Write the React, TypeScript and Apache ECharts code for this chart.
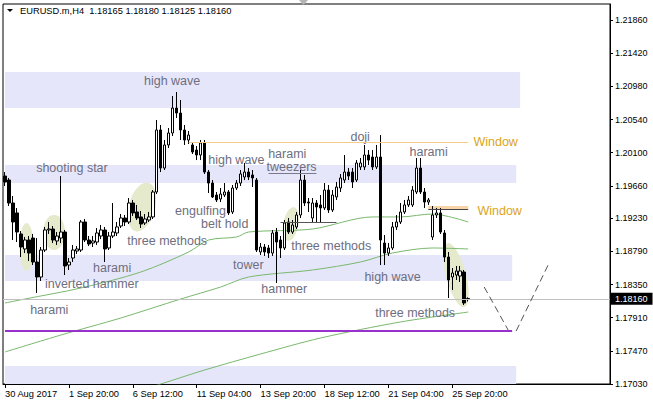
import React, { useEffect, useRef } from "react";
import * as echarts from "echarts";

const FONT = "'Liberation Sans', Arial, sans-serif";

// ---- candles (EURUSD.m, H4) ----
const opens = [
  1.19790, 1.19737, 1.19432, 1.19300, 1.19021, 1.18822, 1.18941, 1.18967, 1.18649, 1.18450,
  1.18808, 1.19074, 1.19087, 1.18928, 1.18967, 1.19047, 1.18609, 1.18702, 1.18795, 1.18808,
  1.19180, 1.18941, 1.18901, 1.18914, 1.18994, 1.19074, 1.18835, 1.18994, 1.19034, 1.19127,
  1.19233, 1.19180, 1.19432, 1.19313, 1.19247, 1.19167, 1.19206, 1.19247, 1.19578, 1.20401,
  1.19896, 1.20202, 1.20361, 1.20692, 1.20626, 1.20401, 1.20268, 1.20202, 1.20135, 1.20069,
  1.20228, 1.19843, 1.19697, 1.19538, 1.19485, 1.19538, 1.19578, 1.19313, 1.19631, 1.19697,
  1.19777, 1.19843, 1.19804, 1.19737, 1.18782, 1.18848, 1.18835, 1.18768, 1.19047, 1.18941,
  1.18835, 1.19180, 1.19047, 1.19114, 1.19273, 1.19737, 1.19445, 1.19233, 1.19432, 1.19406,
  1.19366, 1.19604, 1.19339, 1.19512, 1.19631, 1.19737, 1.19843, 1.19843, 1.19737, 1.19910,
  1.19910, 1.20069, 1.20042, 1.19910, 1.20042, 1.18901, 1.18768, 1.18835, 1.19114, 1.19180,
  1.19313, 1.19406, 1.19406, 1.19578, 1.19896, 1.19578, 1.19445, 1.18981, 1.19273, 1.19300,
  1.19034, 1.18715, 1.18450, 1.18476, 1.18463, 1.18516, 1.18165,
];
const closes = [
  1.19711, 1.19432, 1.19180, 1.19047, 1.18848, 1.18941, 1.18768, 1.18649, 1.18450, 1.18808,
  1.19074, 1.19087, 1.18941, 1.18994, 1.19047, 1.18596, 1.18649, 1.18808, 1.18822, 1.19180,
  1.18941, 1.18888, 1.18928, 1.19034, 1.19074, 1.18822, 1.18994, 1.19047, 1.19114, 1.19233,
  1.19180, 1.19432, 1.19300, 1.19233, 1.19153, 1.19220, 1.19247, 1.19578, 1.20401, 1.19896,
  1.20202, 1.20361, 1.20692, 1.20626, 1.20401, 1.20268, 1.20334, 1.20109, 1.20069, 1.20228,
  1.19843, 1.19697, 1.19512, 1.19472, 1.19551, 1.19578, 1.19300, 1.19631, 1.19697, 1.19817,
  1.19843, 1.19777, 1.19764, 1.18808, 1.18848, 1.18782, 1.18768, 1.19034, 1.18914, 1.18835,
  1.19167, 1.19047, 1.19140, 1.19273, 1.19737, 1.19432, 1.19432, 1.19432, 1.19379, 1.19366,
  1.19604, 1.19339, 1.19538, 1.19644, 1.19764, 1.19843, 1.19790, 1.19711, 1.19963, 1.19963,
  1.20069, 1.20002, 1.19910, 1.20042, 1.18941, 1.18768, 1.18835, 1.19114, 1.19180, 1.19313,
  1.19406, 1.19472, 1.19604, 1.19896, 1.19578, 1.19445, 1.19472, 1.19273, 1.19300, 1.19047,
  1.18715, 1.18410, 1.18503, 1.18530, 1.18530, 1.18105, 1.18160,
];
const lows = [
  1.19657, 1.19392, 1.18941, 1.18914, 1.18715, 1.18768, 1.18662, 1.18609, 1.18238, 1.18397,
  1.18782, 1.19021, 1.18901, 1.18875, 1.18901, 1.18476, 1.18543, 1.18649, 1.18755, 1.18782,
  1.18914, 1.18861, 1.18848, 1.18875, 1.18954, 1.18649, 1.18808, 1.18967, 1.18994, 1.19100,
  1.19127, 1.19153, 1.19260, 1.19206, 1.19100, 1.19140, 1.19180, 1.19220, 1.19551, 1.19843,
  1.19870, 1.20162, 1.20321, 1.20560, 1.20268, 1.20202, 1.20215, 1.20082, 1.20002, 1.20002,
  1.19817, 1.19565, 1.19498, 1.19445, 1.19445, 1.19512, 1.19273, 1.19286, 1.19604, 1.19657,
  1.19737, 1.19737, 1.19644, 1.18782, 1.18742, 1.18729, 1.18702, 1.18729, 1.18370, 1.18702,
  1.18808, 1.19021, 1.19021, 1.19087, 1.19233, 1.19392, 1.19313, 1.19180, 1.19180, 1.19180,
  1.19339, 1.19300, 1.19313, 1.19472, 1.19578, 1.19697, 1.19737, 1.19631, 1.19711, 1.19870,
  1.19870, 1.19936, 1.19870, 1.19883, 1.18609, 1.18609, 1.18729, 1.18808, 1.19074, 1.19153,
  1.19286, 1.19379, 1.19379, 1.19551, 1.19551, 1.19366, 1.19406, 1.18941, 1.19233, 1.19021,
  1.18649, 1.18171, 1.18277, 1.18410, 1.18384, 1.18078, 1.18125,
];
const highs = [
  1.19843, 1.19764, 1.19525, 1.19366, 1.19060, 1.18981, 1.18994, 1.19021, 1.18967, 1.18848,
  1.19114, 1.19180, 1.19127, 1.19047, 1.19790, 1.19074, 1.18702, 1.18875, 1.18861, 1.19206,
  1.19220, 1.18994, 1.18994, 1.19100, 1.19140, 1.19114, 1.19047, 1.19432, 1.19180, 1.19286,
  1.19273, 1.19498, 1.19472, 1.19406, 1.19326, 1.19286, 1.19313, 1.19604, 1.20533, 1.20467,
  1.20268, 1.20427, 1.20852, 1.20905, 1.20799, 1.20467, 1.20387, 1.20241, 1.20188, 1.20268,
  1.20268, 1.19870, 1.19737, 1.19578, 1.19631, 1.19697, 1.19604, 1.19671, 1.19737, 1.19870,
  1.19963, 1.19896, 1.19870, 1.19764, 1.18901, 1.18888, 1.18875, 1.19074, 1.19100, 1.18994,
  1.19206, 1.19233, 1.19206, 1.19313, 1.19870, 1.19804, 1.19498, 1.19498, 1.19472, 1.19538,
  1.19697, 1.19671, 1.19604, 1.19711, 1.19817, 1.20069, 1.19896, 1.19896, 1.20002, 1.20029,
  1.20202, 1.20135, 1.20135, 1.20202, 1.20334, 1.19007, 1.18901, 1.19180, 1.19273, 1.19432,
  1.19472, 1.19525, 1.19657, 1.20029, 1.20029, 1.19631, 1.19498, 1.19392, 1.19366, 1.19366,
  1.19074, 1.18782, 1.18569, 1.18596, 1.18596, 1.18543, 1.18180,
];

// ---- axes ----
const slotCount = 152; // chart shift leaves empty slots on the right
const slots = Array.from({ length: slotCount }, (_, i) => String(i));
const dateTickIdx = [0, 16, 32, 48, 64, 80, 96, 112];
const dateTickLabels = [
  "30 Aug 2017", "1 Sep 20:00", "6 Sep 12:00", "11 Sep 04:00",
  "13 Sep 20:00", "18 Sep 12:00", "21 Sep 04:00", "25 Sep 20:00",
];
const priceTicks = [
  1.1703, 1.1747, 1.1791, 1.1835, 1.1879, 1.1923, 1.1966, 1.201, 1.2054, 1.2098, 1.2142, 1.2186,
];
const priceMin = 1.1703;
const priceMax = 1.22073;
const headerText = "EURUSD.m,H4  1.18165 1.18180 1.18125 1.18160";
const lastClose = 1.1816;

// ---- moving averages ([slot, price]) ----
const maFast = [
  [0, 1.18105], [5, 1.18158], [19, 1.18304], [34, 1.18516], [46, 1.18782], [51, 1.18941],
  [58, 1.18981], [61, 1.19047], [77, 1.19087], [92, 1.19247], [99, 1.19247], [107, 1.19286],
  [116, 1.1918],
];
const maMid = [
  [0, 1.17455], [14, 1.1768], [29, 1.17906], [44, 1.18158], [54, 1.18317], [61, 1.1845],
  [77, 1.18543], [89, 1.18649], [97, 1.18768], [107, 1.18835], [116, 1.18822],
];
const maSlow = [
  [29, 1.16871], [39, 1.1703], [50, 1.17216], [64, 1.17428], [79, 1.1764], [99, 1.17853],
  [116, 1.17985],
];

// ---- zones: [fromSlot, toSlot, upperPrice, lowerPrice] ----
const zones = [
  [0, 129, 1.2117, 1.20692],
  [0, 128, 1.19936, 1.19697],
  [0, 127, 1.18742, 1.18397],
  [0, 128, 1.17269, 1.1703],
];
const lowerWindow = [106, 116, 1.19392, 1.19353];
const upperWindow = [46, 116, 1.20232];
const supportLine = [69, 83, 1.1918];
const tweezerLine = [66, 78, 1.1983];
const purpleLevel = [0, 127, 1.17737];
const projection = [
  [[120, 1.18317], [126, 1.17746]],
  [[128, 1.17733], [136, 1.18609]],
];

// ---- pattern highlights: [centerSlot, centerPrice, halfWidthSlots, halfHeightPrice, tiltDeg] ----
const ellipses = [
  [5.4, 1.18848, 1.75, 0.00318, 0],
  [12.3, 1.1904, 2.75, 0.00232, 0],
  [34.3, 1.19379, 3.3, 0.00332, -15],
  [71.6, 1.19153, 1.9, 0.00226, -10],
  [112.9, 1.18476, 2.5, 0.00438, 15],
];

// ---- annotations ----
const annoTexts = [
  "high wave", "shooting star", "harami", "inverted hammer", "three methods", "engulfing",
  "belt hold", "high wave", "harami", "tweezers", "tower", "hammer", "three methods", "doji",
  "high wave", "harami", "three methods", "Window", "Window", "harami",
];
const annoSlot = [
  34.8, 7.8, 22.05, 10.0, 30.6, 42.6, 49.1, 50.9, 65.9, 65.5, 57.1, 64.2, 71.7, 86.5, 90.0,
  101.3, 92.7, 117.3, 118.3, 6.3,
];
const annoPrice = [
  1.21051, 1.19896, 1.18569, 1.18357, 1.18928, 1.1932, 1.1916, 1.20002, 1.20085, 1.19916,
  1.18609, 1.18291, 1.18861, 1.20308, 1.1845, 1.20109, 1.17972, 1.20241, 1.19326, 1.18012,
];

function px(api: any, slot: number, price: number) {
  const r = Math.round(slot);
  const base = api.coord([r, price]);
  const bw = api.size([1, 0])[0];
  return [base[0] + (slot - r) * bw, base[1], bw];
}

function seg(a: number, b: number, p: number, style: any) {
  return [{ coord: [a, p], lineStyle: style }, { coord: [b, p] }];
}

export default function App() {
  const ref = useRef<HTMLDivElement>(null);

  useEffect(() => {
    if (!ref.current) return;
    const chart = echarts.init(ref.current, null, { renderer: "svg" });

    const candleData = opens.map((o, i) => [o, closes[i], lows[i], highs[i]]);

    const option: any = {
      animation: false,
      backgroundColor: "#fff",
      grid: {
        left: 3, right: 43, top: 4, bottom: 22,
        show: true, borderColor: "#000", borderWidth: 1, backgroundColor: "#fff",
      },
      xAxis: {
        type: "category",
        data: slots,
        boundaryGap: true,
        axisLine: { show: true, lineStyle: { color: "#000" } },
        axisTick: {
          show: true, alignWithLabel: true, length: 4,
          interval: (i: number) => dateTickIdx.includes(i),
          lineStyle: { color: "#000" },
        },
        axisLabel: {
          interval: (i: number) => dateTickIdx.includes(i),
          formatter: (v: string) => {
            const k = dateTickIdx.indexOf(Number(v));
            return k >= 0 ? dateTickLabels[k] : "";
          },
          align: "left", margin: 5, fontSize: 9.3, color: "#000", fontFamily: FONT,
        },
        splitLine: { show: false },
      },
      yAxis: {
        type: "value",
        position: "right",
        min: priceMin,
        max: priceMax,
        axisLine: { show: true, lineStyle: { color: "#000" } },
        axisTick: { show: true, inside: false, length: 3, customValues: priceTicks, lineStyle: { color: "#000" } },
        axisLabel: {
          customValues: priceTicks,
          formatter: (v: number) => v.toFixed(5),
          margin: 5, fontSize: 9, color: "#000", fontFamily: FONT,
        },
        splitLine: { show: false },
      },
      graphic: [
        { type: "polygon", shape: { points: [[7, 9], [13, 9], [10, 12]] }, style: { fill: "#000" } },
        {
          type: "text", x: 20, y: 10.5,
          style: { text: headerText, fill: "#000", fontSize: 9.3, fontFamily: FONT, verticalAlign: "middle" },
        },
        { type: "polygon", shape: { points: [[299, 0], [308, 0], [303.5, 5]] }, style: { fill: "#b4b4b4" } },
      ],
      series: [
        {
          type: "custom",
          z: 1.5,
          silent: true,
          data: ellipses.map((e) => [Math.round(e[0]), e[1]]),
          encode: { x: 0, y: 1 },
          renderItem: (params: any, api: any) => {
            const e = ellipses[params.dataIndex];
            const [x, y, bw] = px(api, e[0], e[1]);
            const ry = api.size([0, e[3]], [Math.round(e[0]), e[1]])[1];
            return {
              type: "ellipse",
              x, y,
              rotation: (e[4] * Math.PI) / 180,
              shape: { cx: 0, cy: 0, rx: e[2] * bw, ry },
              style: { fill: "#e4eacb" },
            };
          },
        },
        {
          type: "line", z: 1.8, silent: true, data: maFast, smooth: 0.3, symbol: "none",
          lineStyle: { color: "#79b86c", width: 1 },
        },
        {
          type: "line", z: 1.8, silent: true, data: maMid, smooth: 0.3, symbol: "none",
          lineStyle: { color: "#79b86c", width: 1 },
        },
        {
          type: "line", z: 1.8, silent: true, data: maSlow, smooth: 0.3, symbol: "none",
          lineStyle: { color: "#79b86c", width: 1 },
        },
        {
          type: "candlestick",
          z: 3,
          barWidth: 3,
          data: candleData,
          itemStyle: {
            color: "#fff", color0: "#000",
            borderColor: "#000", borderColor0: "#000", borderWidth: 1,
          },
          markArea: {
            silent: true,
            data: [
              ...zones.map((z) => [
                { xAxis: z[0], yAxis: z[2], itemStyle: { color: "#e6e6fa" } },
                { xAxis: z[1], yAxis: z[3] },
              ]),
              [
                { xAxis: lowerWindow[0], yAxis: lowerWindow[2], itemStyle: { color: "#f8d4a8" } },
                { xAxis: lowerWindow[1], yAxis: lowerWindow[3] },
              ],
            ],
          },
          markLine: {
            silent: true,
            precision: 5,
            symbol: ["none", "none"],
            label: { show: false },
            data: [
              {
                yAxis: lastClose,
                lineStyle: { color: "#c0c0c0", width: 1, type: "solid" },
                label: {
                  show: true, position: "end", distance: 1,
                  formatter: lastClose.toFixed(5),
                  backgroundColor: "#000", color: "#fff",
                  padding: [2, 5, 1, 4], fontSize: 9, fontFamily: FONT,
                },
              },
              seg(purpleLevel[0], purpleLevel[1], purpleLevel[2], { color: "#9932cc", width: 2, type: "solid" }),
              seg(upperWindow[0], upperWindow[1], upperWindow[2], { color: "#f5cb8c", width: 1, type: "solid" }),
              seg(lowerWindow[0], lowerWindow[1], lowerWindow[3], { color: "#444", width: 1, type: "solid" }),
              seg(supportLine[0], supportLine[1], supportLine[2], { color: "#555", width: 1, type: "solid" }),
              seg(tweezerLine[0], tweezerLine[1], tweezerLine[2], { color: "#7a7a8c", width: 1, type: "solid" }),
              ...projection.map((p) => [
                { coord: p[0], lineStyle: { color: "#555", width: 1, type: [7, 4] } },
                { coord: p[1] },
              ]),
            ],
          },
        },
        {
          type: "custom",
          z: 4,
          silent: true,
          data: annoSlot.map((s, i) => [Math.round(s), annoPrice[i]]),
          encode: { x: 0, y: 1 },
          renderItem: (params: any, api: any) => {
            const i = params.dataIndex;
            const [x, y] = px(api, annoSlot[i], annoPrice[i]);
            const txt = annoTexts[i];
            return {
              type: "text",
              x, y,
              style: {
                text: txt,
                fill: txt === "Window" ? "#daa520" : "#6e6e80",
                fontSize: 12.5,
                fontFamily: FONT,
                align: "left",
                verticalAlign: "middle",
              },
            };
          },
        },
      ],
    };

    chart.setOption(option);
    return () => chart.dispose();
  }, []);

  return (
    <div
      ref={ref}
      style={{ position: "absolute", left: 0, top: 0, width: 653, height: 406, background: "#fff" }}
    />
  );
}
